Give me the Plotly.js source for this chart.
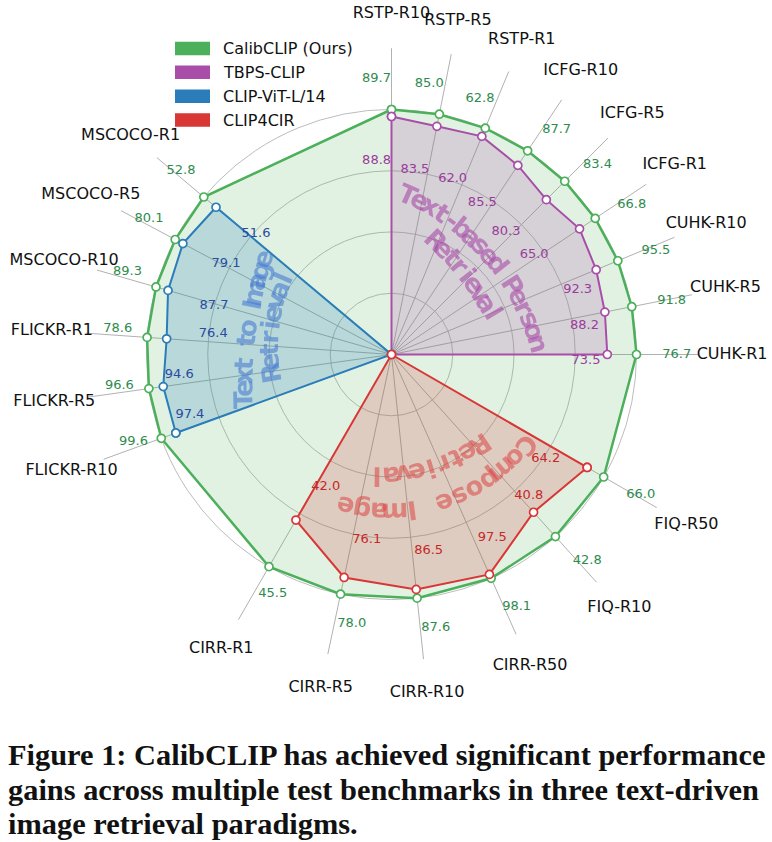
<!DOCTYPE html>
<html><head><meta charset="utf-8">
<script src="https://cdn.plot.ly/plotly-3.0.1.min.js"></script>
<style>html,body{margin:0;padding:0;background:#fff}</style>
</head><body><div id="chart" style="width:772px;height:842px"></div>
<script>
// ---------------- data ----------------
const CATEGORIES = ['RSTP-R10','RSTP-R5','RSTP-R1','ICFG-R10','ICFG-R5','ICFG-R1','CUHK-R10','CUHK-R5','CUHK-R1',
  'FIQ-R50','FIQ-R10','CIRR-R50','CIRR-R10','CIRR-R5','CIRR-R1',
  'FLICKR-R10','FLICKR-R5','FLICKR-R1','MSCOCO-R10','MSCOCO-R5','MSCOCO-R1'];
const CALIBCLIP = [89.7,85.0,62.8,87.7,83.4,66.8,95.5,91.8,76.7, 66.0,42.8,98.1,87.6,78.0,45.5, 99.6,96.6,78.6,89.3,80.1,52.8];
const TBPS_CLIP = [88.8,83.5,62.0,85.5,80.3,65.0,92.3,88.2,73.5, null,null,null,null,null,null, null,null,null,null,null,null];
const CLIP4CIR  = [null,null,null,null,null,null,null,null,null, 64.2,40.8,97.5,86.5,76.1,42.0, null,null,null,null,null,null];
const CLIP_VIT  = [null,null,null,null,null,null,null,null,null, null,null,null,null,null,null, 97.4,94.6,76.4,87.7,79.1,51.6];
const SERIES_NAMES = ['CalibCLIP (Ours)','TBPS-CLIP','CLIP-ViT-L/14','CLIP4CIR'];
const GROUP_TITLES = [['Text-based Person','Retrieval'],['Compose Image','Retrieval'],['Text to Image','Retrieval']];
const CAPTION = ['Figure 1: CalibCLIP has achieved significant performance',
  'gains across multiple test benchmarks in three text-driven',
  'image retrieval paradigms.'];

// ---------------- layout config ----------------
const W = 772, H = 842;
const CX = 391.5, CY = 354.5, UNIT = 245, RMAX = 1.4;
const GROUP_ANGLES = [{start:90, step:-11.25, n:9}, {start:-30, step:-18, n:6}, {start:200, step:-12, n:6}];
const AXIS_THETA = [];
GROUP_ANGLES.forEach(g => { for (let i = 0; i < g.n; i++) AXIS_THETA.push(g.start + g.step * i); });

const COLORS = {
  ours:  {line:'#4CAF5A', fill:'rgba(76,175,90,0.17)', text:'#2E8B4E'},
  tbps:  {line:'#A84EA8', fill:'rgba(168,78,168,0.20)', text:'#9B3C9B'},
  vit:   {line:'#2A7DB8', fill:'rgba(42,125,184,0.22)', text:'#2B4BA0'},
  cir:   {line:'#D93636', fill:'rgba(217,54,54,0.20)', text:'#C62828'}
};
// value-label placement (radius, angular offset in degrees)
const OURS_LBL_R  = [1.129,1.115,1.104,1.137,1.144,1.156,1.159,1.164,1.164, 1.168,1.161,1.149,1.129,1.112,1.09, 1.112,1.118,1.122,1.129,1.135,1.14];
const OURS_LBL_DT = [3.1,3.3,3.4,-2.6,-2.3,-1.75,-1.1,-0.45,0, 0.6,1.5,2.4,3.2,3.6,3.6, -1.3,-1.4,-1.3,-1.4,-1.3,-1.1];
const BASE_LBL_R  = [0.793,0.762,0.761,0.722,0.684,0.710,0.804,0.796,0.794, 0.759,0.804,0.853,0.816,0.763,0.604, 0.859,0.870,0.732,0.752,0.770,0.740];
const BASE_LBL_DT = [4.4,4.05,3.35,2.85,1.9,1.15,-3.4,-2.85,-1.8, -3.95,2.2,4.8,4.7,4.4,3.6, -3.3,-2.5,-2.5,0.5,-0.7,-1.65];
// curved group titles: per line, three anchor points [angle, radius] (first char, a middle point, last char)
const TITLE_ARCS = [
  [ [[84,0.655],[45.3,0.571],[4.4,0.60]], [[68.5,0.50],[45.4,0.446],[22,0.448]] ],
  [ [[-34,0.665],[-67,0.645],[-107,0.65]], [[-45.6,0.517],[-68,0.494],[-96.9,0.502]] ],
  [ [[197,0.633],[167.7,0.598],[143.1,0.654]], [[189,0.495],[168.6,0.506],[144.8,0.54]] ]
];
const TITLE_COLORS = ['rgba(168,78,168,0.62)','rgba(217,70,70,0.55)','rgba(70,120,210,0.58)'];

// ---------------- helpers ----------------
const rel = (v, i) => v == null ? null : (v / CALIBCLIP[i] - 0.65) / 0.35;
const fx = px => px / W, fy = py => 1 - py / H;
const D2R = Math.PI / 180;

function seriesTrace(vals, c, closeViaCenter) {
  const r = [], t = [];
  vals.forEach((v, i) => { if (v != null) { r.push(rel(v, i)); t.push(AXIS_THETA[i]); } });
  if (closeViaCenter) { r.push(0); t.push(AXIS_THETA[vals.findIndex(v => v != null)]); }
  r.push(r[0]); t.push(t[0]);
  return {type:'scatterpolar', mode:'lines+markers', r, theta:t, fill:'toself', fillcolor:c.fill,
    line:{color:c.line, width: closeViaCenter ? 2 : 2.5},
    marker:{size:8, color:'#ffffff', line:{color:c.line, width:1.7}},
    hoverinfo:'skip', showlegend:false, cliponaxis:false};
}

// place characters evenly along the circle through three anchor points
function arcChars(txt, anchors) {
  const P = anchors.map(([a, r]) => [r * UNIT * Math.cos(a * D2R), r * UNIT * Math.sin(a * D2R)]);
  const [[ax, ay], [bx, by], [qx, qy]] = P;
  const d = 2 * (ax * (by - qy) + bx * (qy - ay) + qx * (ay - by));
  const n = txt.length, out = [];
  if (Math.abs(d) < 1e-6) {
    const ang = Math.atan2(qy - ay, qx - ax) + Math.PI / 2;
    for (let k = 0; k < n; k++) {
      const t = k / (n - 1);
      let up = ang; const px = ax + (qx - ax) * t, py = ay + (qy - ay) * t;
      if (Math.cos(up) * px + Math.sin(up) * py < 0) up += Math.PI;
      out.push([px, py, up]);
    }
    return out;
  }
  const s0 = ax*ax + ay*ay, s1 = bx*bx + by*by, s2 = qx*qx + qy*qy;
  const ux = (s0 * (by - qy) + s1 * (qy - ay) + s2 * (ay - by)) / d;
  const uy = (s0 * (qx - bx) + s1 * (ax - qx) + s2 * (bx - ax)) / d;
  const R = Math.hypot(ax - ux, ay - uy);
  const wrap = x => { while (x > Math.PI) x -= 2 * Math.PI; while (x <= -Math.PI) x += 2 * Math.PI; return x; };
  const f0 = Math.atan2(ay - uy, ax - ux), fm = Math.atan2(by - uy, bx - ux), f1 = Math.atan2(qy - uy, qx - ux);
  const dm = wrap(fm - f0); let dd = wrap(f1 - f0);
  if (!(Math.sign(dm) === Math.sign(dd) && Math.abs(dm) < Math.abs(dd))) dd = dd - Math.sign(dd) * 2 * Math.PI;
  for (let k = 0; k < n; k++) {
    const f = f0 + dd * k / (n - 1);
    const px = ux + R * Math.cos(f), py = uy + R * Math.sin(f);
    let up = f;
    if (Math.cos(up) * px + Math.sin(up) * py < 0) up += Math.PI;
    out.push([px, py, up]);
  }
  return out;
}

const traces = [];
// spokes
const sr = [], st = [];
AXIS_THETA.forEach(a => { sr.push(0, 1.25, null); st.push(a, a, null); });
traces.push({type:'scatterpolar', mode:'lines', r:sr, theta:st, line:{color:'#a8a8a8', width:0.9},
  hoverinfo:'skip', showlegend:false, cliponaxis:false});

traces.push(seriesTrace(CALIBCLIP, COLORS.ours, false));
traces.push(seriesTrace(TBPS_CLIP, COLORS.tbps, true));
traces.push(seriesTrace(CLIP_VIT, COLORS.vit, true));
traces.push(seriesTrace(CLIP4CIR, COLORS.cir, true));

// value labels (ours)
traces.push({type:'scatterpolar', mode:'text', r:OURS_LBL_R, theta:AXIS_THETA.map((a,i)=>a+OURS_LBL_DT[i]),
  text:CALIBCLIP.map(v=>v.toFixed(1)), textposition:'middle center',
  textfont:{family:'DejaVu Sans', size:13, color:COLORS.ours.text}, hoverinfo:'skip', showlegend:false, cliponaxis:false});
// value labels (baselines)
const bl = {r:[], t:[], s:[], c:[]};
[[TBPS_CLIP, COLORS.tbps], [CLIP4CIR, COLORS.cir], [CLIP_VIT, COLORS.vit]].forEach(([vals, c]) => {
  vals.forEach((v, i) => { if (v != null) { bl.r.push(BASE_LBL_R[i]); bl.t.push(AXIS_THETA[i] + BASE_LBL_DT[i]); bl.s.push(v.toFixed(1)); bl.c.push(c.text); } });
});
traces.push({type:'scatterpolar', mode:'text', r:bl.r, theta:bl.t, text:bl.s, textposition:'middle center',
  textfont:{family:'DejaVu Sans', size:13, color:bl.c}, hoverinfo:'skip', showlegend:false, cliponaxis:false});
// category labels
traces.push({type:'scatterpolar', mode:'text', r:CATEGORIES.map(()=>1.39), theta:AXIS_THETA, text:CATEGORIES,
  textposition:'middle center', textfont:{family:'DejaVu Sans', size:16, color:'#111111'},
  hoverinfo:'skip', showlegend:false, cliponaxis:false});

// ---------------- annotations & shapes ----------------
const annotations = [], shapes = [];
// curved group titles
GROUP_TITLES.forEach((lines, g) => {
  lines.forEach((txt, li) => {
    arcChars(txt, TITLE_ARCS[g][li]).forEach(([px, py, up], k) => {
      const ch = txt[k];
      if (ch === ' ') return;
      annotations.push({xref:'paper', yref:'paper', x:fx(CX + px), y:fy(CY - py),
        text:'<b>' + ch + '</b>', showarrow:false, xanchor:'center', yanchor:'middle', textangle:90 - up / D2R,
        font:{family:'DejaVu Sans', size:26, color:TITLE_COLORS[g]}});
    });
  });
});
const N_TITLE = annotations.length;
// legend
const legColors = [COLORS.ours.line, COLORS.tbps.line, COLORS.vit.line, COLORS.cir.line];
const legRows = [48.5, 72.3, 96.2, 120];
SERIES_NAMES.forEach((name, i) => {
  shapes.push({type:'rect', xref:'paper', yref:'paper', x0:fx(175), x1:fx(210), y0:fy(legRows[i]-6.7), y1:fy(legRows[i]+6.7),
    fillcolor:legColors[i], line:{width:0}});
  annotations.push({xref:'paper', yref:'paper', x:fx(221), y:fy(legRows[i]), text:name, showarrow:false,
    xanchor:'left', yanchor:'middle', font:{family:'DejaVu Sans', size:16, color:'#111111'}});
});
// caption
const capY = [755, 790, 824];
CAPTION.forEach((line, i) => {
  annotations.push({xref:'paper', yref:'paper', x:fx(6), y:fy(capY[i]), text:line, showarrow:false,
    xanchor:'left', yanchor:'middle', font:{family:'Liberation Serif', size:30.4, weight:'bold', color:'#111111'}});
});

const layout = {
  width:W, height:H, margin:{l:0, r:0, t:0, b:0}, paper_bgcolor:'#ffffff', showlegend:false,
  polar:{
    domain:{x:[fx(CX - RMAX*UNIT), fx(CX + RMAX*UNIT)], y:[fy(CY + RMAX*UNIT), fy(CY - RMAX*UNIT)]},
    bgcolor:'rgba(0,0,0,0)',
    radialaxis:{range:[0, RMAX], tickvals:[0.25,0.5,0.75,1.0], showticklabels:false, ticks:'', showline:false,
      gridcolor:'#b4b4b4', gridwidth:0.9},
    angularaxis:{showgrid:false, showticklabels:false, ticks:'', showline:false}
  },
  annotations, shapes
};
Plotly.newPlot('chart', traces, layout, {displayModeBar:false, staticPlot:true}).then(gd => {
  try {
    const anns = gd.querySelectorAll('g.annotation');
    if (!anns.length) return;
    const svg = anns[0].ownerSVGElement;
    const NS = 'http://www.w3.org/2000/svg';
    const defs = document.createElementNS(NS, 'defs');
    const f = document.createElementNS(NS, 'filter');
    f.setAttribute('id', 'titleblur'); f.setAttribute('x', '-50%'); f.setAttribute('y', '-50%');
    f.setAttribute('width', '200%'); f.setAttribute('height', '200%');
    const b = document.createElementNS(NS, 'feGaussianBlur'); b.setAttribute('stdDeviation', '0.7');
    f.appendChild(b); defs.appendChild(f); svg.insertBefore(defs, svg.firstChild);
    anns.forEach(a => { if (+a.getAttribute('data-index') < N_TITLE) a.setAttribute('filter', 'url(#titleblur)'); });
  } catch (e) {}
});
</script></body></html>
